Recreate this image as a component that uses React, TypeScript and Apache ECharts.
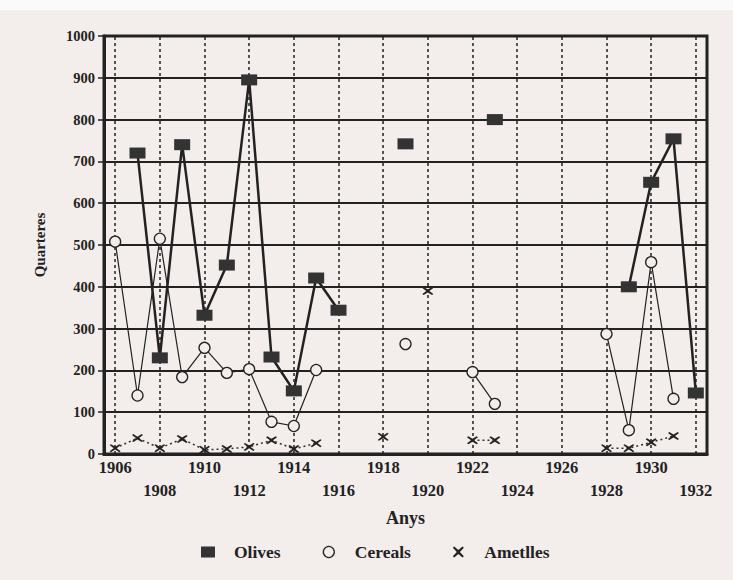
import React, { useEffect, useRef } from "react";
import * as echarts from "echarts";

const years: string[] = [
  "1906","1907","1908","1909","1910","1911","1912","1913","1914","1915","1916","1917","1918","1919",
  "1920","1921","1922","1923","1924","1925","1926","1927","1928","1929","1930","1931","1932",
];
const gridYears: string[] = ["1906","1908","1910","1912","1914","1916","1918","1920","1922","1924","1926","1928","1930","1932"];

const olives: (number | null)[] = [
  null, 720, 230, 740, 332, 452, 895, 232, 151, 421, 344, null, null, 742,
  null, null, null, 800, null, null, null, null, null, 400, 650, 754, 146,
];
const cereals: (number | null)[] = [
  508, 140, 515, 184, 254, 194, 203, 77, 67, 201, null, null, null, 263,
  null, null, 196, 120, null, null, null, null, 287, 57, 459, 132, null,
];
const ametlles: (number | null)[] = [
  14, 38, 14, 36, 10, 12, 17, 33, 12, 26, null, null, 41, null,
  390, null, 33, 33, null, null, null, null, 14, 14, 28, 43, null,
];

const BG = "#f3edeb";
const INK = "#222";
const FONT = "'Liberation Serif', 'DejaVu Serif', serif";
const X_PATH = "path://M0,1.2L1.2,0L5,3.2L8.8,0L10,1.2L6.4,5L10,8.8L8.8,10L5,6.8L1.2,10L0,8.8L3.6,5Z";

export default function App() {
  const ref = useRef<HTMLDivElement>(null);
  useEffect(() => {
    document.body.style.margin = "0";
    const chart = echarts.init(ref.current!, null, { renderer: "svg" });
    chart.setOption({
      animation: false,
      backgroundColor: BG,
      textStyle: { fontFamily: FONT },
      graphic: [
        { type: "rect", left: 0, top: 0, shape: { width: 733, height: 10 }, style: { fill: "#fbfafa" }, z: 0 },
      ],
      grid: {
        left: 104, right: 26, top: 36, bottom: 126,
        show: true, borderColor: INK, borderWidth: 3, backgroundColor: "transparent",
      },
      legend: {
        bottom: 14, left: 196, itemGap: 42, itemWidth: 14, itemHeight: 11,
        textStyle: { fontFamily: FONT, fontWeight: "bold", fontSize: 17.5, color: INK, padding: [0, 0, 0, 14] },
        data: [
          { name: "Olives", icon: "rect", itemStyle: { color: "#333", borderWidth: 0 } },
          { name: "Cereals", icon: "circle", itemStyle: { color: BG, borderColor: INK, borderWidth: 1.3 } },
          { name: "Ametlles", icon: X_PATH, itemStyle: { color: INK, borderWidth: 0 } },
        ],
      },
      xAxis: {
        type: "category",
        data: years,
        boundaryGap: true,
        name: "Anys",
        nameLocation: "middle",
        nameGap: 55,
        nameTextStyle: { fontFamily: FONT, fontWeight: "bold", fontSize: 18, color: INK },
        axisLine: { show: true, lineStyle: { color: INK, width: 3 } },
        axisTick: { show: false },
        axisLabel: {
          interval: 0,
          margin: 5,
          color: INK,
          fontFamily: FONT,
          fontWeight: "bold",
          fontSize: 16.5,
          formatter: (v: string, i: number) => {
            if (i % 4 === 0) return `{up|${v}}`;
            if (i % 4 === 2) return `{dn|${v}}`;
            return "";
          },
          rich: {
            up: { fontFamily: FONT, fontWeight: "bold", fontSize: 16.5, color: INK },
            dn: { fontFamily: FONT, fontWeight: "bold", fontSize: 16.5, color: INK, padding: [23, 0, 0, 0] },
          },
        },
        splitLine: { show: false },
      },
      yAxis: {
        type: "value",
        min: 0,
        max: 1000,
        interval: 100,
        name: "Quarteres",
        nameLocation: "middle",
        nameGap: 57,
        nameRotate: 90,
        nameTextStyle: { fontFamily: FONT, fontWeight: "bold", fontSize: 15, color: INK },
        axisLine: { show: true, lineStyle: { color: INK, width: 3 } },
        axisTick: { show: true, length: 6, lineStyle: { color: INK, width: 1.5 } },
        axisLabel: {
          color: INK, fontFamily: FONT, fontWeight: "bold", fontSize: 14.5, margin: 9,
          formatter: (v: number) => String(v),
        },
        splitLine: { show: true, lineStyle: { color: INK, width: 2 } },
      },
      series: [
        {
          name: "Cereals",
          type: "line",
          data: cereals,
          connectNulls: false,
          symbol: "circle",
          symbolSize: 11,
          itemStyle: { color: BG, borderColor: INK, borderWidth: 1.3 },
          lineStyle: { color: INK, width: 1.2 },
          z: 3,
        },
        {
          name: "Ametlles",
          type: "line",
          data: ametlles,
          connectNulls: false,
          symbol: X_PATH,
          symbolSize: [11, 8],
          itemStyle: { color: INK },
          lineStyle: { color: "#333", width: 1.5, type: [2, 3] },
          z: 3,
        },
        {
          name: "Olives",
          type: "line",
          data: olives,
          connectNulls: false,
          symbol: "rect",
          symbolSize: [16, 11],
          itemStyle: { color: "#333" },
          lineStyle: { color: INK, width: 2.5 },
          z: 4,
          markLine: {
            silent: true,
            symbol: "none",
            label: { show: false },
            lineStyle: { color: INK, width: 1.5, type: [3, 3] },
            data: gridYears.map((y) => ({ xAxis: y })),
            z: 1,
          },
        },
      ],
    });
    return () => chart.dispose();
  }, []);
  return <div ref={ref} style={{ position: "absolute", left: 0, top: 0, width: 733, height: 580 }} />;
}
